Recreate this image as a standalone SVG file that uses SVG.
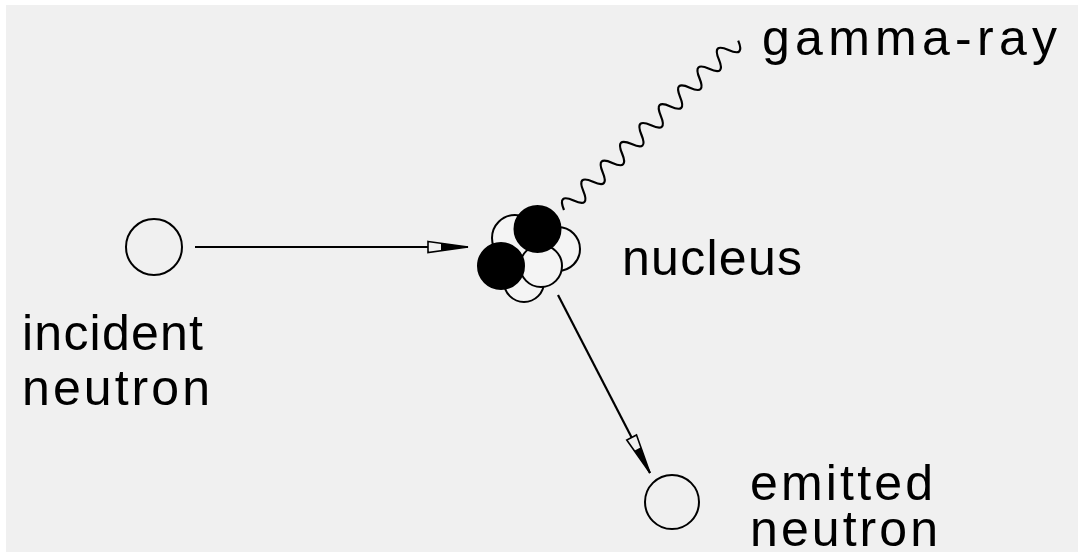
<svg xmlns="http://www.w3.org/2000/svg" width="1078" height="552" viewBox="0 0 1078 552">
  <style>
    .label { font-family: "Liberation Sans", Arial, sans-serif; font-size: 50px; fill: #000; }
    .particle { fill: none; stroke: #000; stroke-width: 2; }
    .nucleon-w { fill: #f4f4f4; stroke: #000; stroke-width: 2; }
    .nucleon-b { fill: #000; stroke: #000; stroke-width: 2; }
    .track { fill: none; stroke: #000; stroke-width: 2.2; }
  </style>
  <defs>
    <!-- narrow arrowhead: hollow back half, solid tip -->
    <marker id="head" markerUnits="userSpaceOnUse" markerWidth="50" markerHeight="20" viewBox="-42 -10 44 20" refX="0" refY="0" orient="auto">
      <polygon points="-40,-5.5 0,0 -40,5.5" fill="#f0f0f0" stroke="#000" stroke-width="1.6"/>
      <polygon points="-27,-3.8 0,0 -27,3.8" fill="#000"/>
    </marker>
  </defs>

  <!-- page -->
  <rect x="0" y="0" width="1078" height="552" fill="#ffffff"/>
  <rect x="6" y="5" width="1072" height="547" fill="#f0f0f0"/>

  <!-- connectors -->
  <g id="connectors">
    <line class="track" x1="195" y1="247" x2="468" y2="247" marker-end="url(#head)"/>
    <line class="track" x1="558" y1="295" x2="650" y2="473" marker-end="url(#head)"/>
    <!-- gamma-ray: wavy photon line -->
    <path class="track" transform="translate(564,210) rotate(-44.2)"
          d="M0,0 q6.75,-17 13.5,0 t13.5,0 t13.5,0 t13.5,0 t13.5,0 t13.5,0 t13.5,0 t13.5,0 t13.5,0 t13.5,0 t13.5,0 t13.5,0 t13.5,0 t13.5,0 t13.5,0 t13.5,0 t13.5,0 t13.5,0"/>
  </g>

  <g id="incident-neutron">
    <circle class="particle" cx="154" cy="247" r="28"/>
    <text class="label" x="22" y="350" textLength="181" lengthAdjust="spacing">incident</text>
    <text class="label" x="22" y="405" textLength="188" lengthAdjust="spacing">neutron</text>
  </g>

  <g id="nucleus">
    <circle class="nucleon-w" cx="515" cy="238" r="23"/>
    <circle class="nucleon-w" cx="558" cy="249" r="22"/>
    <circle class="nucleon-w" cx="524" cy="282" r="20"/>
    <circle class="nucleon-w" cx="541" cy="266" r="21"/>
    <circle class="nucleon-b" cx="537.5" cy="229" r="23"/>
    <circle class="nucleon-b" cx="501" cy="266" r="23"/>
    <text class="label" x="622" y="275" textLength="180" lengthAdjust="spacing">nucleus</text>
  </g>

  <g id="gamma-ray">
    <text class="label" x="762" y="55" textLength="295" lengthAdjust="spacing">gamma-ray</text>
  </g>

  <g id="emitted-neutron">
    <circle class="particle" cx="672" cy="502" r="27"/>
    <text class="label" x="750" y="500" textLength="183" lengthAdjust="spacing">emitted</text>
    <text class="label" x="750" y="546" textLength="188" lengthAdjust="spacing">neutron</text>
  </g>
</svg>
